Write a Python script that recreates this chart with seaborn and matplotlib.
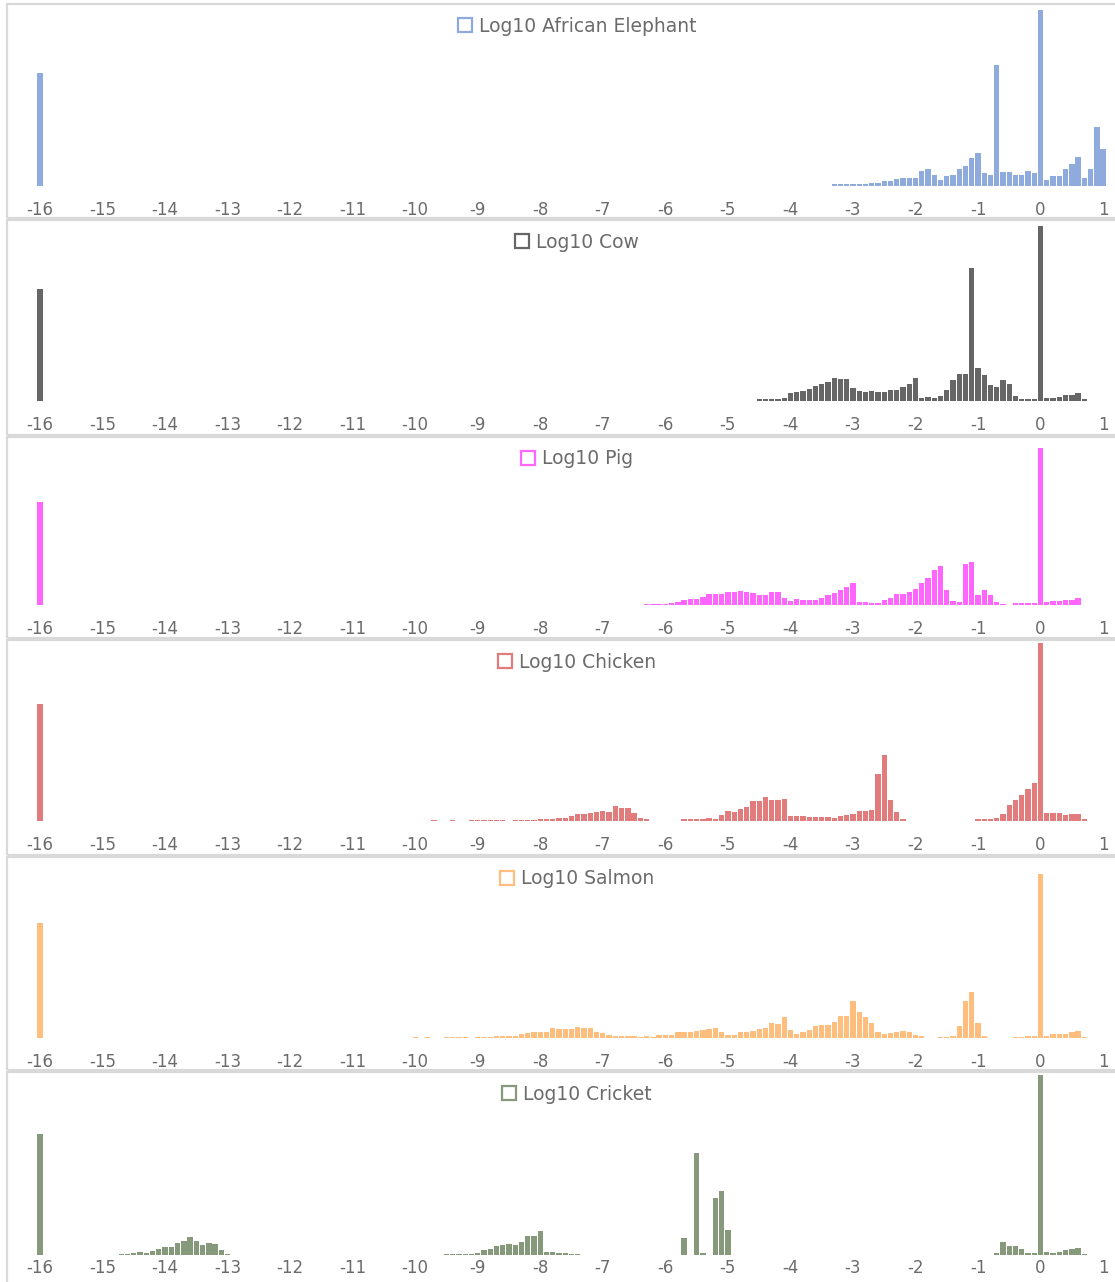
import matplotlib
matplotlib.use("Agg")
import matplotlib.pyplot as plt
import pandas as pd
import seaborn as sns
from matplotlib.patches import Patch, Rectangle

W, H = 1115, 1282

species = ["African Elephant", "Cow", "Pig", "Chicken", "Salmon", "Cricket"]
colors = ["#8FAADC", "#666666", "#FF66FF", "#E27C7C", "#FFBE7D", "#86997A"]

# the lone bar drawn at -16 in every panel
zero_bars = [113, 112, 103, 117, 115, 121]

# histogram heights, 0.1-wide log10 bins: (first bin, heights...)
elephant = [
    (-3.3, [1.7, 1.7, 1.7, 1.7, 1.7, 1.7, 3, 3, 5, 5, 7, 7.7, 7.7, 8.3,
            14.7, 16.7, 11.3, 6, 10.3, 11.3, 17.3, 20.3, 28.3, 32.7, 13.3, 11.3,
            121, 14, 14, 11.3, 11.3, 15.3, 13.3,
            176,
            6, 10.3, 10.3, 16.7, 21.7, 29.3, 8.3, 16.7, 58.7, 37]),
]
cow = [
    (-4.5, [1.7, 1.7, 1.7, 2, 3.3, 8, 8.7, 10, 12, 14.7, 16.7, 19.3, 23, 21.7, 21.7,
            13, 10.3, 9, 9.7, 9, 9, 11, 11, 13.7, 16.7, 22.7, 3, 3.7, 2.7, 5,
            11, 21.3, 26.7, 26.7, 133, 32.7, 26.3, 16.3, 13.7, 20.7, 17.3, 5.3,
            1.7, 2.3, 2.3,
            174.7,
            3, 3, 4, 5.7, 6, 7.7, 1.7]),
]
pig = [
    (-6.3, [1.3, 1.3, 1.3, 1.3, 2, 3, 4.7, 6, 6.3, 8.3, 11, 10.7, 11, 13.3, 12.7,
            14, 13, 11.7, 10, 10, 12.7, 12.7, 7, 4.3, 6, 5, 5, 5, 7, 9.7, 11.7,
            14.7, 18.3, 21.7, 2.7, 2.7, 2.3, 2.3, 4.7, 7, 10.7, 10.7, 12.7, 16,
            22.3, 27, 35, 39.3, 15.3, 4.3, 3, 41, 43, 10, 15, 9.7, 3, 1.3, 0,
            1.7, 1.7, 1.7, 2,
            156.7,
            3.3, 4.3, 4.3, 5, 5, 6.7]),
]
chicken = [
    (-9.7, [1, 0, 0, 1, 0, 0, 1, 1, 1, 1, 1, 1, 0, 1, 1, 1, 1, 1.7, 1.7, 1.7,
            2.7, 2.7, 4.7, 6.7, 7, 8, 9.3, 9.7, 9.3, 14.7, 12.7, 13, 8, 3.3, 2]),
    (-5.7, [2, 2, 2, 1.7, 3.3, 2.3, 6, 10, 9.3, 12, 13.7, 19.7, 19.7, 24, 21, 21,
            21.7, 4.7, 4.7, 5.3, 4.3, 4.3, 4.3, 4.3, 3.3, 5.3, 6, 7, 9.7, 10, 11,
            46.7, 66, 21.3, 8.7, 1.7]),
    (-1.0, [1.7, 1.7, 1.7, 3, 7, 16, 20.7, 25.7, 32.3, 38.3,
            180.3,
            8.3, 8, 7.7, 6.3, 7, 7.3, 1.7]),
]
salmon = [
    (-10.0, [1, 0, 1, 0, 0, 1, 1, 1, 1, 0, 1, 1, 1, 1.7, 1.7, 2.3, 2.3,
             3.7, 5, 5.7, 5.7, 6, 9.7, 8.7, 8.7, 8.7, 11, 10.3, 10.3, 6.3, 5.3, 3.3,
             2.3, 2.3, 2.3, 2.3, 1.3, 2, 1.3, 3.3, 3.3, 3.3, 5.7, 5.7, 5.7,
             7, 8.3, 9, 10.3, 5.7, 3, 3, 5.7, 5.7, 7, 9.3, 10, 15.3, 14.3, 20.7,
             8, 4.3, 6, 7.7, 12, 12.7, 13.3, 16.3, 21.7, 22, 37.3,
             25.7, 20.7, 15, 6.3, 4, 4.7, 5.7, 7.3, 5.7, 3.3, 1.7]),
    (-1.6, [1, 1, 2.3, 12, 36.7, 45.7, 15.3, 1.7]),
    (-0.4, [1, 1, 2, 2, 164.3, 2, 3.7, 3.7, 4, 5.7, 7, 1]),
]
cricket = [
    (-14.7, [1, 1, 1.7, 3, 2, 3.7, 5.7, 7.7, 8.3, 11.7, 14.3, 17.7, 14.3, 10.3,
             12, 11, 5, 1.3]),
    (-9.5, [1, 1.3, 1, 1.3, 1, 2, 5.3, 6.3, 9, 9.7, 11, 10.3, 13.3, 18.7, 18.7,
            24, 3, 2.7, 2, 1.7, 1.3, 1.3]),
    (-5.7, [16.7, 0, 101.7, 1.7, 0, 57.3, 63.7, 24.7]),
    (-0.7, [1.7, 12.7, 8.7, 8.7, 5.7, 2, 2.3, 181, 2.7, 2.3, 3, 5.3, 5.7, 7.3, 1.3]),
]
all_segments = [elephant, cow, pig, chicken, salmon, cricket]

xticks = list(range(-16, 2))

# panel frame in pixels: top edge, axis baseline, bottom edge
panels = [(4, 186, 218), (220, 401, 435), (437, 605, 638),
          (640, 821, 855), (857, 1038, 1070), (1072, 1255, 1292)]


def to_frame(segments, zero_height):
    rows = [(-16.0, zero_height)]
    for start, heights in segments:
        for i, h in enumerate(heights):
            if h > 0:
                rows.append((round(start + 0.1 * i, 1), h))
    return pd.DataFrame(rows, columns=["log10", "count"])


sns.set_style("white")
plt.rcParams["font.family"] = ["DejaVu Sans"]
plt.rcParams["axes.unicode_minus"] = False

text_grey = "#6b6b6b"

fig = plt.figure(figsize=(W / 100, H / 100), dpi=100)

for k, (name, color, zero_h, segs, (top, base, bottom)) in enumerate(zip(
        species, colors, zero_bars, all_segments, panels)):
    # chart border like the separate Excel charts
    fig.add_artist(Rectangle((7 / W, 1 - bottom / H), 1.2, (bottom - top) / H,
                             transform=fig.transFigure, fill=False,
                             edgecolor="#d9d9d9", linewidth=1.6))

    ax_top = top + 3
    ax = fig.add_axes([10 / W, 1 - base / H, 1105 / W, (base - ax_top) / H])
    df = to_frame(segs, zero_h)
    sns.histplot(data=df, x="log10", weights="count", binwidth=0.1,
                 binrange=(-16.05, 1.05), color=color, alpha=1,
                 edgecolor="none", linewidth=0, shrink=0.85, ax=ax)

    ax.set_xlim(-16.48, 1.19)
    ax.set_ylim(0, base - ax_top)
    ax.set_xticks(xticks)
    ax.set_xticklabels([str(t) for t in xticks])
    ax.set_yticks([])
    ax.set_xlabel("")
    ax.set_ylabel("")
    # bottom panel is cut by the page edge, keep its labels inside
    pad = 3 if k == len(species) - 1 else 11
    ax.tick_params(axis="x", length=0, pad=pad, labelsize=12, labelcolor=text_grey)
    for side in ax.spines.values():
        side.set_visible(False)
    ax.patch.set_alpha(0)

    handle = Patch(facecolor="white", edgecolor=color, linewidth=1.6,
                   label="Log10 " + name)
    ax.legend(handles=[handle], loc="center",
              bbox_to_anchor=(577 / W, 1 - (top + 22) / H),
              bbox_transform=fig.transFigure, frameon=False, fontsize=13.5,
              labelcolor=text_grey, handlelength=0.75, handleheight=0.75,
              handletextpad=0.35, borderpad=0)

fig.savefig("out.png", dpi=100)
plt.close(fig)
